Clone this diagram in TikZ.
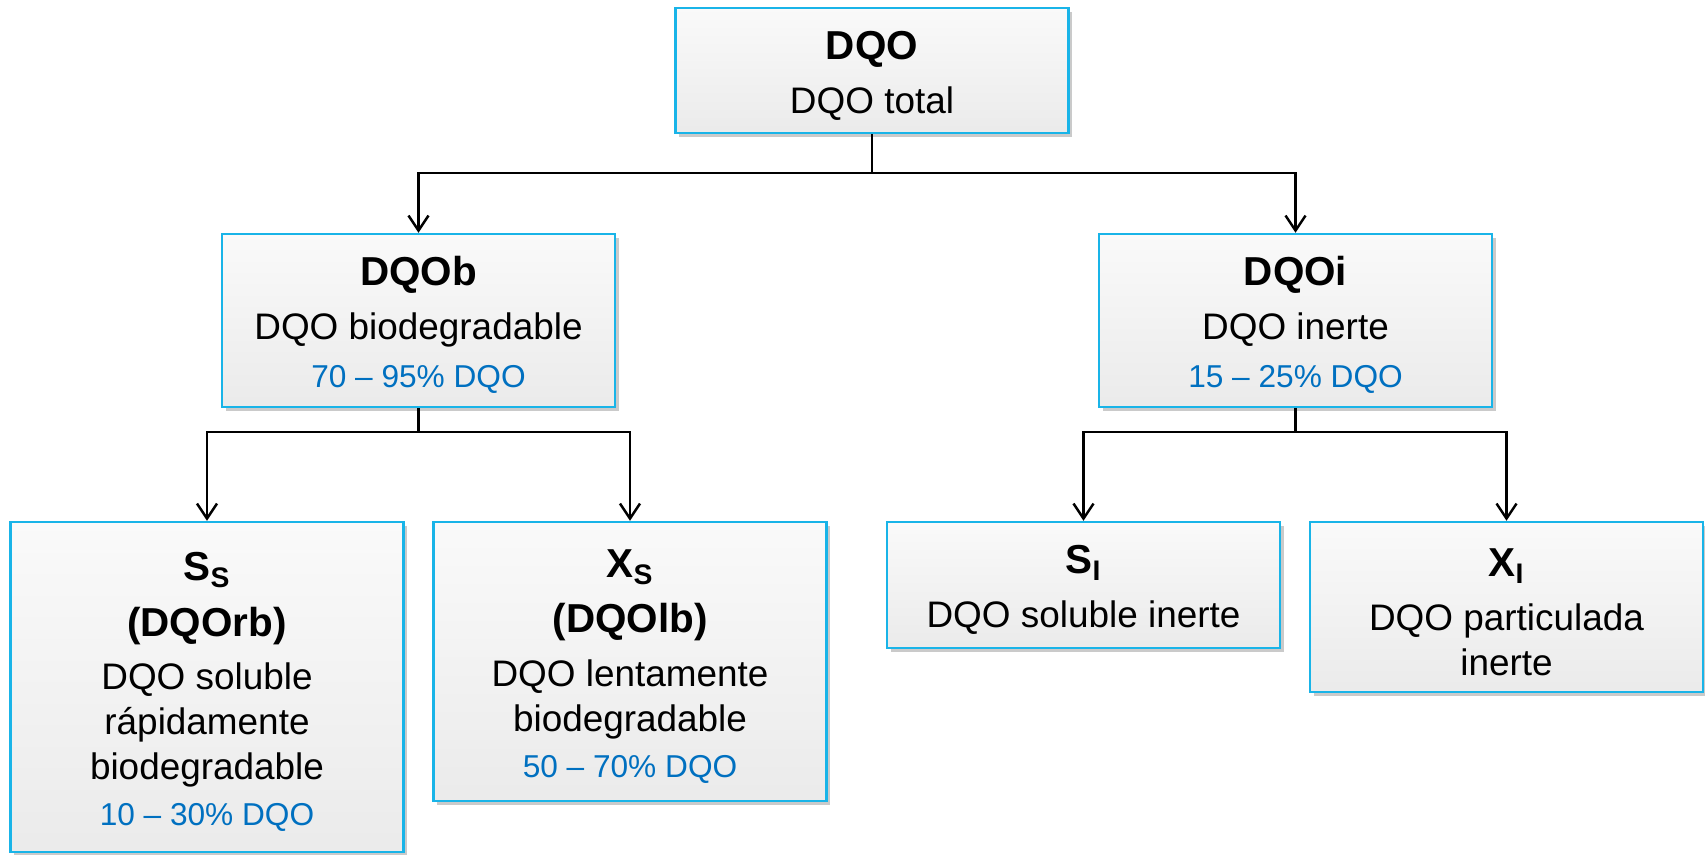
\documentclass[tikz,border=0pt]{standalone}
\usepackage{fontspec}
\setmainfont{Liberation Sans}
\usetikzlibrary{shadows}
\usetikzlibrary{arrows.meta}
\definecolor{boxline}{RGB}{25,180,232}
\definecolor{pctblue}{RGB}{0,112,192}
\tikzset{
    mybox/.style = {rectangle, draw=boxline, line width=1.4pt, top color=black!2, bottom color=black!8, minimum width=7.86cm, inner sep=0pt, align=center, font=\fontsize{21}{25.5}\selectfont, drop shadow={shadow xshift=0.07cm, shadow yshift=-0.07cm, opacity=0.35, fill=black!60}},
    edgen/.style = {-{Straight Barb[length=3mm,width=4mm]}, line width=1.4pt},
}
\newcommand{\boxtitle}[1]{{\fontsize{23}{27}\selectfont\bfseries #1}}
\newcommand{\toptitle}[1]{\boxtitle{\rule{0pt}{0.77cm}#1}}
\newcommand{\pcttext}[1]{{\fontsize{18}{22}\selectfont\color{pctblue}#1}}

\begin{document}
\begin{tikzpicture}
\useasboundingbox (0,0) rectangle (34.1,-17.08);
%
\node[mybox, minimum height=2.5cm] at (17.44,-1.41) (dqo) {\toptitle{DQO}\\[5pt]DQO total};
\node[mybox, minimum height=3.46cm] at (8.37,-6.41) (dqob) {\toptitle{DQOb}\\[5pt]DQO biodegradable\\[2pt]\pcttext{70 -- 95\% DQO}};
\node[mybox, minimum height=3.46cm] at (25.91,-6.41) (dqoi) {\toptitle{DQOi}\\[5pt]DQO inerte\\[2pt]\pcttext{15 -- 25\% DQO}};
\node[mybox, minimum height=6.6cm] at (4.14,-13.74) (ss) {\toptitle{S\textsubscript{S}}\\[6pt]\boxtitle{(DQOrb)}\\[5pt]DQO soluble\\rápidamente\\biodegradable\\[1pt]\pcttext{10 -- 30\% DQO}};
\node[mybox, minimum height=5.58cm] at (12.6,-13.23) (xs) {\toptitle{X\textsubscript{S}}\\[6pt]\boxtitle{(DQOlb)}\\[5pt]DQO lentamente\\biodegradable\\[1pt]\pcttext{50 -- 70\% DQO}};
\node[mybox, minimum height=2.52cm] at (21.67,-11.7) (si) {\toptitle{S\textsubscript{I}}\\[5pt]DQO soluble inerte};
\node[mybox, minimum height=3.4cm] at (30.13,-12.14) (xi) {\toptitle{X\textsubscript{I}}\\[5pt]DQO particulada\\inerte};
%
\draw[edgen] (dqo.south) -- ++(0,-0.78) -| (dqob.north);
\draw[edgen] (dqo.south) -- ++(0,-0.78) -| (dqoi.north);
\draw[edgen] (dqob.south) -- ++(0,-0.48) -| (ss.north);
\draw[edgen] (dqob.south) -- ++(0,-0.48) -| (xs.north);
\draw[edgen] (dqoi.south) -- ++(0,-0.48) -| (si.north);
\draw[edgen] (dqoi.south) -- ++(0,-0.48) -| (xi.north);

\end{tikzpicture}
\end{document}
